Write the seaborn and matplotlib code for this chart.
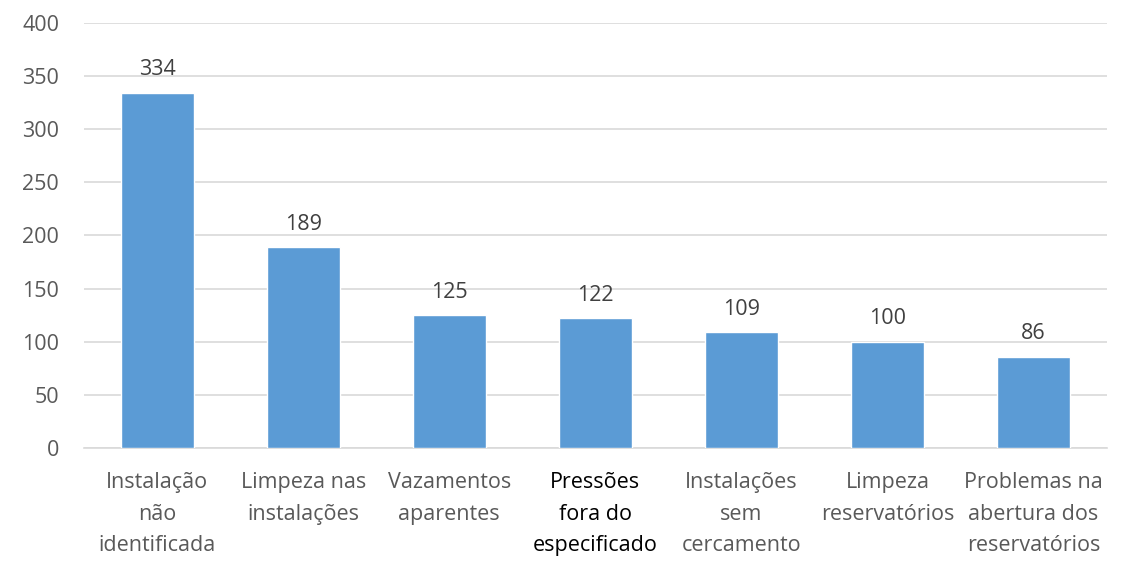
import pandas as pd
import matplotlib.pyplot as plt
import seaborn as sns

# values
categorias = [
    "Instalação\nnão\nidentificada",
    "Limpeza nas\ninstalações",
    "Vazamentos\naparentes",
    "Pressões\nfora do\nespecificado",
    "Instalações\nsem\ncercamento",
    "Limpeza\nreservatórios",
    "Problemas na\nabertura dos\nreservatórios",
]
ocorrencias = [334, 189, 125, 122, 109, 100, 86]
y_ticks = [0, 50, 100, 150, 200, 250, 300, 350, 400]

df = pd.DataFrame({"categoria": categorias, "ocorrencias": ocorrencias})

sns.set_style("white")
plt.rcParams["font.family"] = ["Open Sans", "DejaVu Sans"]

fig = plt.figure(figsize=(11.4, 5.7), dpi=100)
ax = fig.add_axes([0.0737, 0.214, 0.897, 0.746])

sns.barplot(data=df, x="categoria", y="ocorrencias", color="#5B9BD5",
            width=0.5, saturation=1, ax=ax, zorder=3)

# value labels above bars
for cont in ax.containers:
    ax.bar_label(cont, fmt="%d", padding=9, fontsize=15.5, color="#404040")

ax.set_ylim(0, 400)
ax.set_yticks(y_ticks)
ax.set_xlim(-0.5, len(categorias) - 0.5)
ax.yaxis.grid(True, color="#D9D9D9", linewidth=1.2, zorder=0)
ax.set_xlabel("")
ax.set_ylabel("")

for s in ["top", "right", "left"]:
    ax.spines[s].set_visible(False)
ax.spines["bottom"].set_color("#D9D9D9")
ax.spines["bottom"].set_linewidth(1.2)

ax.tick_params(axis="y", length=0, pad=18, labelsize=15.5, labelcolor="#595959")
ax.tick_params(axis="x", length=0, pad=17, labelsize=15.5, labelcolor="#595959")
for lbl in ax.get_xticklabels():
    lbl.set_linespacing(1.68)
    if lbl.get_text().startswith("Pressões"):
        lbl.set_color("black")

plt.savefig("out.png", dpi=100)
